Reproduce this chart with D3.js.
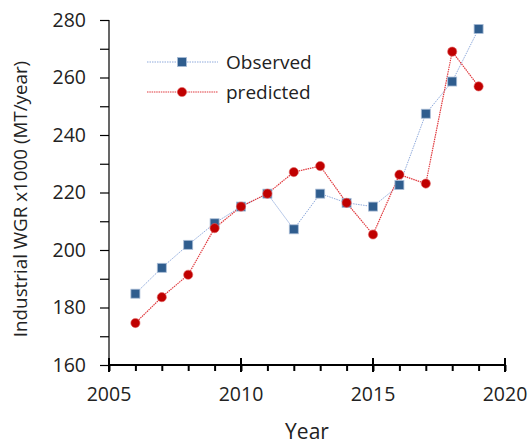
<!DOCTYPE html>
<html><head><meta charset="utf-8">
<script src="https://cdn.jsdelivr.net/npm/d3@7"></script>
<style>body{margin:0;background:#fff;} svg{display:block;} text{font-family:"Open Sans",sans-serif;fill:#222;}</style>
</head><body>
<svg id="c" width="530" height="445"></svg>
<script>
const years = [2006,2007,2008,2009,2010,2011,2012,2013,2014,2015,2016,2017,2018,2019];
const observed = [184.8,193.8,201.8,209.3,215.1,219.6,207.2,219.6,216.4,215.1,222.6,247.4,258.6,276.9];
const predicted = [174.6,183.6,191.4,207.6,215.1,219.6,227.1,229.2,216.4,205.4,226.2,223.1,269.0,256.9];
const xTicks = [2005,2010,2015,2020];
const yTicks = [160,180,200,220,240,260,280];
const seriesNames = ["Observed","predicted"];

const svg = d3.select("#c");
const x = d3.scaleLinear().domain([2005,2020]).range([109,505]);
const y = d3.scaleLinear().domain([160,280]).range([365,20]);

// y axis
const gy = svg.append("g").attr("transform","translate(109,0)");
gy.call(d3.axisLeft(y).tickValues(d3.range(160,281,10)).tickSize(9).tickFormat(d => yTicks.includes(d) ? d : ""));
gy.select(".domain").attr("stroke","#000").attr("stroke-width",1.2).attr("d","M0,"+y(280)+"V"+y(160));
gy.selectAll(".tick line").attr("stroke","#000").attr("stroke-width",1.2);
gy.selectAll(".tick text").attr("x",-23).style("font-size","19.5px").style("font-family","Open Sans").attr("fill","#222");

// x axis minor ticks
const gx = svg.append("g").attr("transform","translate(0,365)");
gx.call(d3.axisBottom(x).tickValues(d3.range(2005,2021,1)).tickSize(6).tickFormat(""));
gx.select(".domain").attr("stroke","#000").attr("stroke-width",2.2).attr("d","M"+x(2005)+",0H"+x(2020));
gx.selectAll(".tick line").attr("stroke","#000").attr("stroke-width",2);
// major ticks crossing
gx.selectAll(".major").data(xTicks).enter().append("line")
  .attr("x1",d=>x(d)).attr("x2",d=>x(d)).attr("y1",-7).attr("y2",7)
  .attr("stroke","#000").attr("stroke-width",2);
gx.selectAll(".lbl").data(xTicks).enter().append("text")
  .attr("x",d=>x(d)).attr("y",36).attr("text-anchor","middle")
  .style("font-size","19.5px").text(d=>d);

// titles
svg.append("text").attr("x",307).attr("y",439).attr("text-anchor","middle").style("font-size","21px").text("Year");
svg.append("text").attr("transform","translate(27,199) rotate(-90)").attr("text-anchor","middle").style("font-size","18.8px").text("Industrial WGR x1000 (MT/year)");

const line = d3.line().x((d,i)=>x(years[i])).y(d=>y(d));
const obsColor = "#8FAADC", obsFill = "#2F5D8E";
const predColor = "#E0393E", predFill = "#C00000";

svg.append("path").datum(observed).attr("d",line).attr("fill","none").attr("stroke",obsColor).attr("stroke-width",1).attr("stroke-dasharray","1.5,1");
svg.append("path").datum(predicted).attr("d",line).attr("fill","none").attr("stroke",predColor).attr("stroke-width",1.2).attr("stroke-dasharray","1.5,0.8");

svg.selectAll(".obs").data(observed).enter().append("rect")
  .attr("x",(d,i)=>x(years[i])-4.5).attr("y",d=>y(d)-4.5).attr("width",9).attr("height",9)
  .attr("fill",obsFill).attr("stroke","#A9BCD6").attr("stroke-width",0.8);
svg.selectAll(".pred").data(predicted).enter().append("circle")
  .attr("cx",(d,i)=>x(years[i])).attr("cy",d=>y(d)).attr("r",4.6)
  .attr("fill",predFill).attr("stroke","#E06666").attr("stroke-width",0.6);

// legend
const lg = svg.append("g");
const ly = [62,92];
lg.append("line").attr("x1",147).attr("x2",218).attr("y1",ly[0]).attr("y2",ly[0]).attr("stroke",obsColor).attr("stroke-width",1).attr("stroke-dasharray","1.5,1");
lg.append("rect").attr("x",182-4.5).attr("y",ly[0]-4.5).attr("width",9).attr("height",9).attr("fill",obsFill).attr("stroke","#A9BCD6").attr("stroke-width",0.8);
lg.append("line").attr("x1",147).attr("x2",218).attr("y1",ly[1]).attr("y2",ly[1]).attr("stroke",predColor).attr("stroke-width",1.2).attr("stroke-dasharray","1.5,0.8");
lg.append("circle").attr("cx",182).attr("cy",ly[1]).attr("r",4.6).attr("fill",predFill).attr("stroke","#E06666").attr("stroke-width",0.6);
lg.selectAll(".lt").data(seriesNames).enter().append("text")
  .attr("x",226).attr("y",(d,i)=>ly[i]+7).style("font-size","19px").text(d=>d);
</script>
</body></html>
